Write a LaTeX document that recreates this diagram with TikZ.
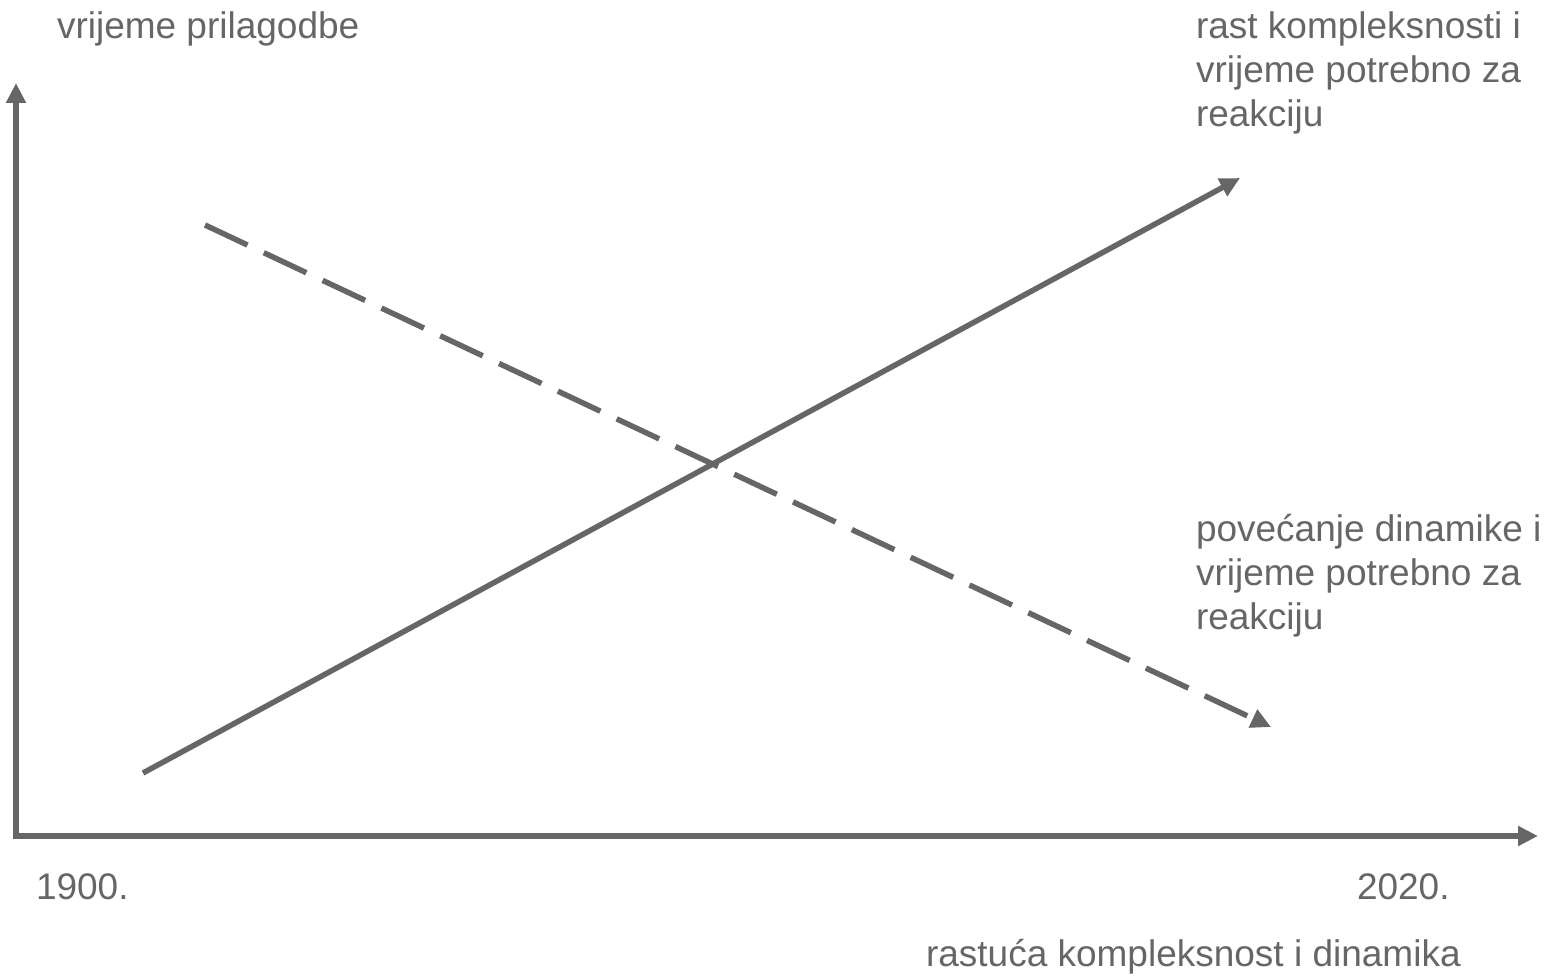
\documentclass[tikz,border=0pt]{standalone}
\usepackage{fontspec}
\setmainfont{Liberation Sans}
\usetikzlibrary{arrows.meta}
\definecolor{ink}{HTML}{666666}
\tikzset{
  axis/.style={draw=ink, line width=6pt, -{Triangle[length=20pt,width=19pt]}},
  trend/.style={draw=ink, line width=5.5pt, -{Triangle[length=20pt,width=19pt]}},
  dashtrend/.style={trend, dash pattern=on 47pt off 18pt},
  lbl/.style={text=ink, anchor=base west, inner sep=0pt, outer sep=0pt, align=left,
    font=\fontsize{37}{44}\selectfont},
}
\begin{document}
\begin{tikzpicture}[x=1pt,y=-1pt]
\useasboundingbox (0,0) rectangle (1563,976);
% axes
\coordinate (origin) at (13,836);
\coordinate (ytip) at (16,83);
\coordinate (xtip) at (1538,836);
\coordinate (ybase) at (16,839);
\draw[axis] (ybase) -- (ytip);
\draw[axis] (origin) -- (xtip);
% trend lines
\coordinate (s1) at (143,773);
\coordinate (e1) at (1240,178);
\coordinate (s2) at (205,225);
\coordinate (e2) at (1271,727);
\draw[trend] (s1) -- (e1);
\draw[dashtrend] (s2) -- (e2);
% labels
\node[lbl] (ylabel) at (57,39) {vrijeme prilagodbe};
\node[lbl, anchor=north west] (l1) at (1196,11.5) {rast kompleksnosti i\\vrijeme potrebno za\\reakciju};
\node[lbl, anchor=north west] (l2) at (1196,514) {povećanje dinamike i\\vrijeme potrebno za\\reakciju};
\node[lbl] (x0) at (36,899) {1900.};
\node[lbl] (x1) at (1357,899) {2020.};
\node[lbl] (xlabel) at (926,966) {rastuća kompleksnost i dinamika};
\end{tikzpicture}
\end{document}
